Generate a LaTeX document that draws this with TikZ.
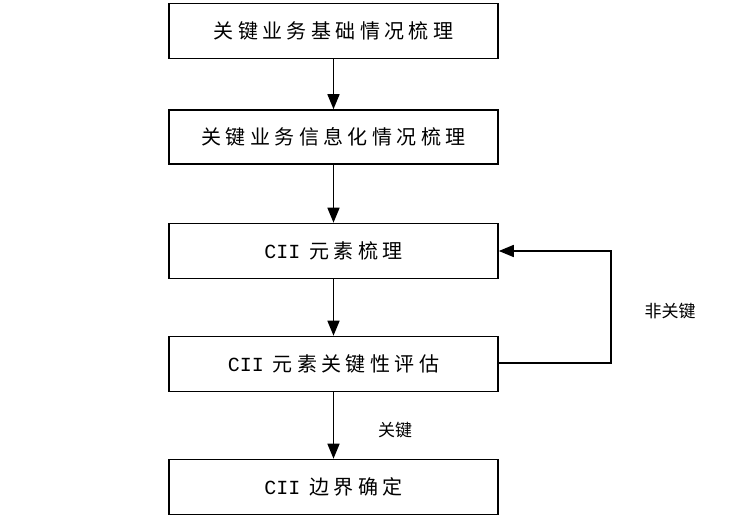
\documentclass[tikz,border=0pt]{standalone}
\usepackage{fontspec}
\newfontfamily\cjk[LetterSpace=22]{Noto Sans CJK SC}
\newfontfamily\cjkplain{Noto Sans CJK SC}
\newfontfamily\monofont{Liberation Mono}
\usetikzlibrary{arrows.meta}
\tikzset{
  flowbox/.style={draw=black, line width=1.6pt, minimum width=329pt, minimum height=55pt, inner sep=0pt, font=\fontsize{20}{24}\selectfont\cjk},
  flowarrow/.style={line width=1.6pt, -{Triangle[width=12pt,length=15pt]}},
  lbl/.style={font=\fontsize{17}{20}\selectfont\cjkplain, inner sep=0pt}
}
\begin{document}
\begin{tikzpicture}[x=1pt,y=-1pt]
\useasboundingbox (0,0) rectangle (737,518);
\node[flowbox] (b1) at (333.5,31) {关键业务基础情况梳理};
\node[flowbox, minimum height=54pt] (b2) at (333.5,137) {关键业务信息化情况梳理};
\node[flowbox] (b3) at (333.5,251) {{\monofont CII} 元素梳理};
\node[flowbox] (b4) at (333.5,364) {{\monofont CII} 元素关键性评估};
\node[flowbox] (b5) at (333.5,487) {{\monofont CII} 边界确定};
\coordinate (c1) at (611,363);
\coordinate (c2) at (611,251);
\draw[flowarrow] (b1) -- (b2);
\draw[flowarrow] (b2) -- (b3);
\draw[flowarrow] (b3) -- (b4);
\draw[flowarrow] (b4) -- (b5);
\draw[flowarrow] (b4.east |- c1) -- (c1) -- (c2) -- (b3.east);
\node[lbl] (k) at (395,430) {关键};
\node[lbl] (nk) at (670,311) {非关键};
\end{tikzpicture}
\end{document}
